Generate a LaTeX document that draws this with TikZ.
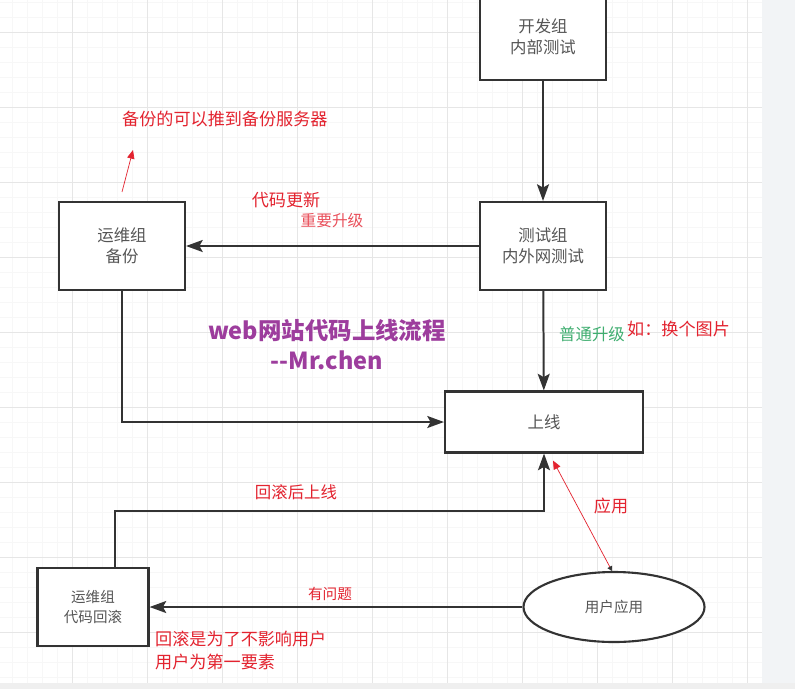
\documentclass[tikz,border=0pt]{standalone}
\usepackage{fontspec}
\setmainfont{Noto Sans CJK SC}
\usetikzlibrary{shapes.geometric, arrows.meta, positioning}
\definecolor{boxstr}{HTML}{333333}
\definecolor{boxtxt}{HTML}{555555}
\definecolor{notered}{HTML}{E3232F}
\definecolor{keyred}{HTML}{E9505B}
\definecolor{plaingreen}{HTML}{3FAE70}
\definecolor{titlepurple}{HTML}{9D3D9D}
\definecolor{gridmajor}{HTML}{E6E6E6}
\definecolor{gridminor}{HTML}{F7F7F7}
\definecolor{sidebar}{HTML}{F2F4F6}
\definecolor{footbar}{HTML}{EFEFEF}
\tikzset{
  procbox/.style ={rectangle, draw=boxstr, fill=white, line width=1.8pt,
                   text=boxtxt, align=center, font=\fontsize{14}{18}\selectfont},
  userbox/.style ={ellipse, draw=boxstr, fill=white, line width=1.8pt, inner sep=0pt,
                   text=boxtxt, align=center, font=\fontsize{12.4}{16}\selectfont},
  note/.style    ={text=notered, inner sep=0pt, font=\fontsize{14.6}{19.6}\selectfont},
  flow/.style    ={-{Stealth[length=5mm, width=3.6mm, inset=1mm]}, line width=1.7pt, draw=boxstr},
  hint/.style    ={draw=notered, line width=0.6pt},
}

\begin{document}
\begin{tikzpicture}[x=0.03cm, y=-0.03cm]
    \clip (0,0) rectangle (795,689);
    % background grid of the editor
    \fill[white] (0,0) rectangle (795,689);
    \foreach \gx in {12,27,...,760} \draw[gridminor, line width=0.4pt] (\gx,0) -- (\gx,689);
    \foreach \gy in {2,17,...,689} \draw[gridminor, line width=0.4pt] (0,\gy) -- (762,\gy);
    \foreach \gx in {72,147,...,760} \draw[gridmajor, line width=0.6pt] (\gx,0) -- (\gx,689);
    \foreach \gy in {32,107,...,689} \draw[gridmajor, line width=0.6pt] (0,\gy) -- (762,\gy);
    \fill[sidebar] (762,0) rectangle (795,689);
    \fill[footbar] (0,683) rectangle (795,689);

    \node[procbox, minimum width=3.78cm, minimum height=2.58cm] (dev) at (543,37) {开发组\\内部测试};
    \node[procbox, minimum width=3.78cm, minimum height=2.64cm] (test) at (543,246) {测试组\\内外网测试};
    \node[procbox, minimum width=3.78cm, minimum height=2.64cm] (ops) at (122,246) {运维组\\备份};
    \node[procbox, minimum width=5.94cm, minimum height=1.83cm] (online) at (544,422) {上线};
    \node[procbox, minimum width=3.33cm, minimum height=2.34cm, font=\fontsize{12.4}{17}\selectfont] (rollback) at (93,607) {运维组\\代码回滚};
    \node[userbox, minimum width=5.43cm, minimum height=2.1cm] (user) at (614,607) {用户应用};

    \coordinate (rbturn) at (115,511);
    \coordinate (pushtip) at (133,150);

    \draw[flow] (dev) -- (test);
    \draw[flow] (test) -- (ops);
    \draw[flow] (test) -- (online);
    \draw[flow] (ops.south) |- (online.west);
    \draw[flow] (rbturn |- rollback.north) |- (online.south |- rbturn) -- (online.south);
    \draw[flow] (user) -- (rollback);
    \draw[hint, {Triangle[length=2.6mm, width=2.2mm]}-{Triangle[length=1.4mm, width=1.6mm, color=boxstr]}]
      ([shift={(0.27cm,-0.21cm)}]online.south) -- ([xshift=-0.06cm]user.north);
    \draw[hint, -{Triangle[length=2.6mm, width=2.2mm]}] ([yshift=0.27cm]ops.north) -- (pushtip);

    \node[note, anchor=west] (pushnote) at (122,119) {备份的可以推到备份服务器};
    \node[note] (codeupd) at (286,200) {代码更新};
    \node[note, text=keyred, font=\fontsize{13.4}{16}\selectfont] (major) at (332,221) {重要升级};
    \node[text=titlepurple, align=center, inner sep=0pt, font=\fontsize{20}{25.6}\selectfont\bfseries] (title) at (327,345) {web网站代码上线流程\\-{}-Mr.chen};
    \node[note, text=plaingreen, font=\fontsize{14}{16}\selectfont] (minor) at (592,334) {普通升级};
    \node[note, anchor=west] (example) at (627,329) {如：换个图片};
    \node[note, font=\fontsize{14}{16}\selectfont] (relaunch) at (296,492) {回滚后上线};
    \node[note] (apply) at (611,506) {应用};
    \node[note, font=\fontsize{12.5}{16}\selectfont] (issue) at (330,594) {有问题};
    \node[note, anchor=north west, align=left] (reason) at (155,631) {回滚是为了不影响用户\\用户为第一要素};
\end{tikzpicture}
\end{document}
